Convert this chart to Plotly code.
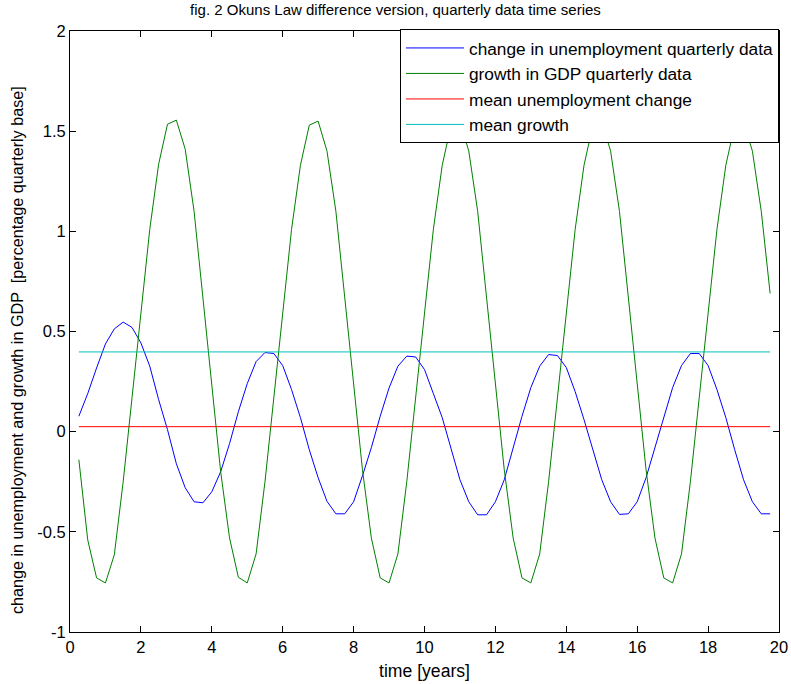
import plotly.graph_objects as go

quarters = [0.25 * k for k in range(1, 80)]

unemployment_change = [
    0.077, 0.19, 0.318, 0.438, 0.513, 0.547, 0.52, 0.443, 0.327, 0.16, 0.01, -0.16, -0.28, -0.35, -0.355, -0.30,
    -0.20, -0.06, 0.10, 0.24, 0.35, 0.395, 0.39, 0.33, 0.21, 0.07, -0.09, -0.23, -0.348, -0.41, -0.41, -0.35,
    -0.22, -0.08, 0.077, 0.218, 0.327, 0.377, 0.373, 0.31, 0.19, 0.07, -0.085, -0.24, -0.35, -0.415, -0.415, -0.35,
    -0.24, -0.08, 0.077, 0.22, 0.327, 0.385, 0.38, 0.32, 0.20, 0.06, -0.09, -0.24, -0.35, -0.413, -0.41, -0.35,
    -0.23, -0.08, 0.08, 0.22, 0.33, 0.39, 0.39, 0.33, 0.21, 0.07, -0.09, -0.24, -0.35, -0.41, -0.41,
]

gdp_growth = [
    -0.14, -0.54, -0.73, -0.755, -0.615, -0.25, 0.17, 0.58, 1.01, 1.335, 1.535, 1.555, 1.41, 1.10, 0.66, 0.22,
    -0.20, -0.53, -0.727, -0.755, -0.61, -0.25, 0.17, 0.58, 1.01, 1.33, 1.53, 1.55, 1.40, 1.10, 0.66, 0.22,
    -0.19, -0.53, -0.73, -0.755, -0.61, -0.25, 0.17, 0.58, 1.01, 1.33, 1.53, 1.55, 1.40, 1.10, 0.66, 0.22,
    -0.19, -0.53, -0.73, -0.755, -0.61, -0.25, 0.17, 0.58, 1.01, 1.33, 1.53, 1.55, 1.40, 1.10, 0.66, 0.22,
    -0.19, -0.53, -0.73, -0.755, -0.61, -0.25, 0.17, 0.58, 1.01, 1.33, 1.53, 1.55, 1.40, 1.10, 0.69,
]

mean_unemployment_change = 0.025
mean_growth = 0.398

series_names = [
    "change in unemployment quarterly data",
    "growth in GDP quarterly data",
    "mean unemployment change",
    "mean growth",
]
series_colors = ["#0000FF", "#008000", "#FF0000", "#00BFBF"]

x_ticks = list(range(0, 21, 2))
y_ticks = [-1, -0.5, 0, 0.5, 1, 1.5, 2]
y_tick_labels = ["-1", "-0.5", "0", "0.5", "1", "1.5", "2"]

title_text = "fig. 2 Okuns Law difference version, quarterly data time series"
x_title = "time [years]"
y_title = "change in unemployment and growth in GDP  [percentage quarterly base]"

fig = go.Figure()
series_values = [
    unemployment_change,
    gdp_growth,
    [mean_unemployment_change] * len(quarters),
    [mean_growth] * len(quarters),
]
for i, (name, col, vals) in enumerate(zip(series_names, series_colors, series_values)):
    fig.add_trace(go.Scatter(
        x=quarters,
        y=vals,
        mode="lines",
        name=name,
        legendgroup=f"g{i}",
        line=dict(color=col, width=1),
    ))

FONT = "Liberation Sans, Arial, sans-serif"

fig.update_layout(
    width=791,
    height=684,
    autosize=False,
    margin=dict(l=70, r=12, t=31, b=52, pad=0, autoexpand=False),
    paper_bgcolor="white",
    plot_bgcolor="white",
    font=dict(family=FONT, size=16, color="black"),
    title=dict(
        text=title_text,
        x=0.5, xanchor="center", y=0.993, yanchor="top",
        font=dict(size=15, family=FONT, color="black"),
    ),
    showlegend=True,
    legend=dict(
        x=1, xanchor="right", y=1.003, yanchor="top",
        bgcolor="white", bordercolor="black", borderwidth=1,
        font=dict(size=17.3, family=FONT, color="black"),
        tracegroupgap=0,
        itemwidth=58,
    ),
    xaxis=dict(
        range=[0, 20], tickvals=x_ticks, ticktext=[str(v) for v in x_ticks],
        ticks="inside", ticklen=6, tickcolor="black", tickwidth=1,
        showline=True, linecolor="black", linewidth=1, mirror="ticks",
        showgrid=False, zeroline=False, automargin=False,
        title=dict(text=x_title, standoff=9, font=dict(size=17.6)),
        tickfont=dict(size=16.5),
    ),
    yaxis=dict(
        range=[-1, 2], tickvals=y_ticks, ticktext=y_tick_labels,
        ticks="inside", ticklen=6, tickcolor="black", tickwidth=1,
        showline=True, linecolor="black", linewidth=1, mirror="ticks",
        showgrid=False, zeroline=False, automargin=False,
        tickfont=dict(size=16.5),
    ),
    annotations=[
        dict(
            text=y_title, textangle=-90,
            xref="paper", yref="paper", x=-0.0748, y=0.469,
            xanchor="center", yanchor="middle", showarrow=False,
            font=dict(size=16.2, family=FONT, color="black"),
        )
    ],
)

fig.write_html("out.html")
